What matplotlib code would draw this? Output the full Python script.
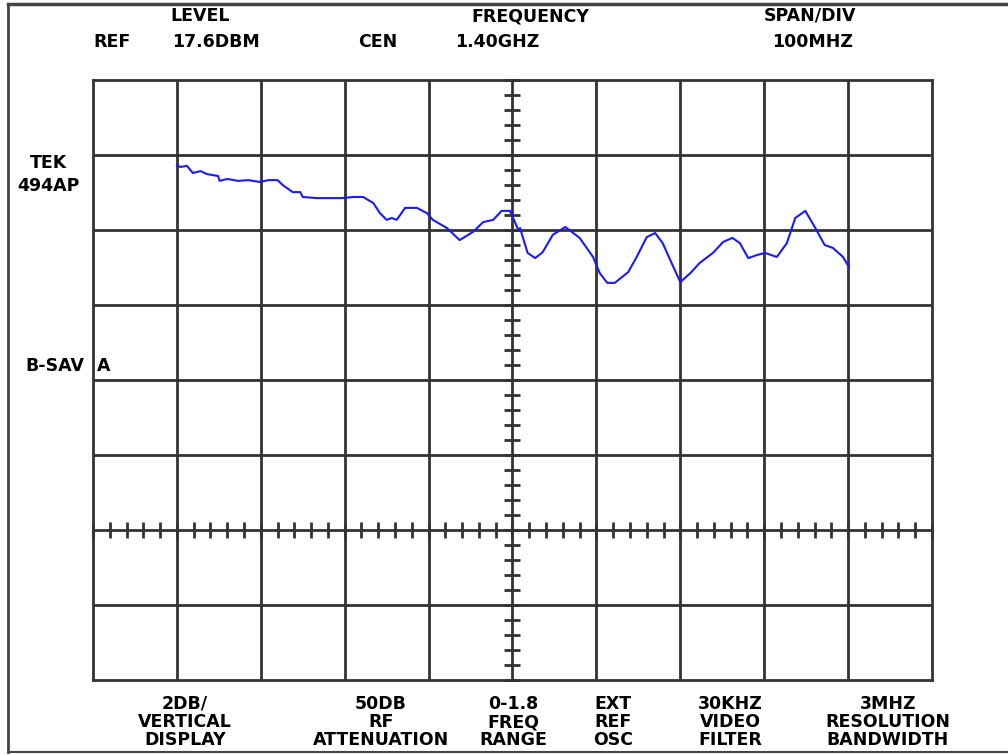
import matplotlib.pyplot as plt
import numpy as np

# screen settings
ref_level = 17.6      # dBm, top graticule line
db_per_div = 2.0
center_mhz = 1400.0
span_per_div = 100.0  # MHz
n_xdiv = 10
n_ydiv = 8

# trace (frequency in MHz, level in dBm)
freq = [1000, 1004, 1012, 1019, 1028, 1036, 1049, 1051, 1060, 1073, 1085, 1099,
        1109, 1120, 1126, 1138, 1147, 1150, 1167, 1182, 1197, 1210, 1222, 1234,
        1242, 1250, 1256, 1262, 1272, 1286, 1298, 1305, 1322, 1337, 1353, 1365,
        1377, 1387, 1397, 1407, 1409, 1418, 1427, 1436, 1448, 1463, 1480, 1496,
        1504, 1513, 1522, 1538, 1548, 1560, 1570, 1579, 1588, 1600, 1612, 1623,
        1639, 1651, 1662, 1671, 1681, 1691, 1701, 1715, 1727, 1737, 1749, 1761,
        1772, 1782, 1794, 1801]
level = [15.33, 15.28, 15.31, 15.12, 15.17, 15.09, 15.04, 14.91, 14.96, 14.91,
         14.93, 14.88, 14.93, 14.93, 14.80, 14.61, 14.61, 14.48, 14.45, 14.45,
         14.45, 14.48, 14.48, 14.32, 14.05, 13.87, 13.92, 13.87, 14.19, 14.19,
         14.05, 13.87, 13.65, 13.33, 13.55, 13.81, 13.87, 14.11, 14.11, 13.60,
         13.65, 12.99, 12.85, 13.01, 13.47, 13.68, 13.39, 12.88, 12.45, 12.19,
         12.19, 12.48, 12.88, 13.41, 13.52, 13.25, 12.80, 12.21, 12.45, 12.72,
         12.99, 13.28, 13.39, 13.25, 12.85, 12.93, 12.99, 12.88, 13.25, 13.92,
         14.11, 13.65, 13.20, 13.12, 12.88, 12.61]

top_labels = [("LEVEL", 200, 16), ("FREQUENCY", 530, 16), ("SPAN/DIV", 810, 16),
              ("REF", 112, 42), ("17.6DBM", 216, 42), ("CEN", 378, 42),
              ("1.40GHZ", 497, 42), ("100MHZ", 812, 42)]
bottom_cols = [(185, ["2DB/", "VERTICAL", "DISPLAY"]),
               (381, ["50DB", "RF", "ATTENUATION"]),
               (513, ["0-1.8", "FREQ", "RANGE"]),
               (613, ["EXT", "REF", "OSC"]),
               (730, ["30KHZ", "VIDEO", "FILTER"]),
               (888, ["3MHZ", "RESOLUTION", "BANDWIDTH"])]

W, H = 1008, 755
fig = plt.figure(figsize=(W / 100, H / 100), dpi=100)
fig.patch.set_facecolor("white")

x0 = center_mhz - span_per_div * n_xdiv / 2
x1 = center_mhz + span_per_div * n_xdiv / 2
y1 = ref_level
y0 = ref_level - db_per_div * n_ydiv

ax = fig.add_axes([93 / W, (H - 680) / H, 839 / W, 600 / H])
ax.set_xlim(x0, x1)
ax.set_ylim(y0, y1)
ax.set_xticks([])
ax.set_yticks([])
for s in ax.spines.values():
    s.set_color("#333333")
    s.set_linewidth(2)

gc = "#333333"
for xv in np.linspace(x0, x1, n_xdiv + 1)[1:-1]:
    ax.axvline(xv, color=gc, lw=2, zorder=1)
for yv in np.linspace(y0, y1, n_ydiv + 1)[1:-1]:
    ax.axhline(yv, color=gc, lw=2, zorder=1)

# minor ticks on the centre vertical and on the marked horizontal line
y_axis_line = y0 + 2 * db_per_div
xt = np.arange(x0, x1 + 1, span_per_div / 5)
ax.plot(xt, np.full_like(xt, y_axis_line), ls="none", marker="|",
        ms=12, mew=2, color=gc, zorder=1, clip_on=False)
yt = np.arange(y0, y1 + 0.01, db_per_div / 5)
ax.plot(np.full_like(yt, center_mhz), yt, ls="none", marker="_",
        ms=12, mew=2, color=gc, zorder=1, clip_on=False)

ax.plot(freq, level, color="#1a1aff", lw=1.5, zorder=3)

# outer frame (top, left, bottom only; right edge runs off the image)
fc = "#444444"
fig.add_artist(plt.Line2D([8 / W, 1.0], [1 - 4 / H, 1 - 4 / H], color=fc, lw=2.5))
fig.add_artist(plt.Line2D([8 / W, 8 / W], [1 - 4 / H, 1 - 752 / H], color=fc, lw=2))
fig.add_artist(plt.Line2D([8 / W, 1.0], [1 - 752 / H, 1 - 752 / H], color=fc, lw=1.5))

fkw = dict(fontsize=12.5, fontweight="bold", family="DejaVu Sans",
           color="black", ha="center", va="center")
for txt, px, py in top_labels:
    fig.text(px / W, 1 - py / H, txt, **fkw)
for px, lines in bottom_cols:
    for i, t in enumerate(lines):
        fig.text(px / W, 1 - (704 + 18 * i) / H, t, **fkw)

fig.text(48 / W, 1 - 163 / H, "TEK", **fkw)
fig.text(48 / W, 1 - 186 / H, "494AP", **fkw)
fig.text(55 / W, 1 - 366 / H, "B-SAV", **fkw)
fig.text(104 / W, 1 - 366 / H, "A", **fkw)

fig.savefig("out.png", dpi=100)
